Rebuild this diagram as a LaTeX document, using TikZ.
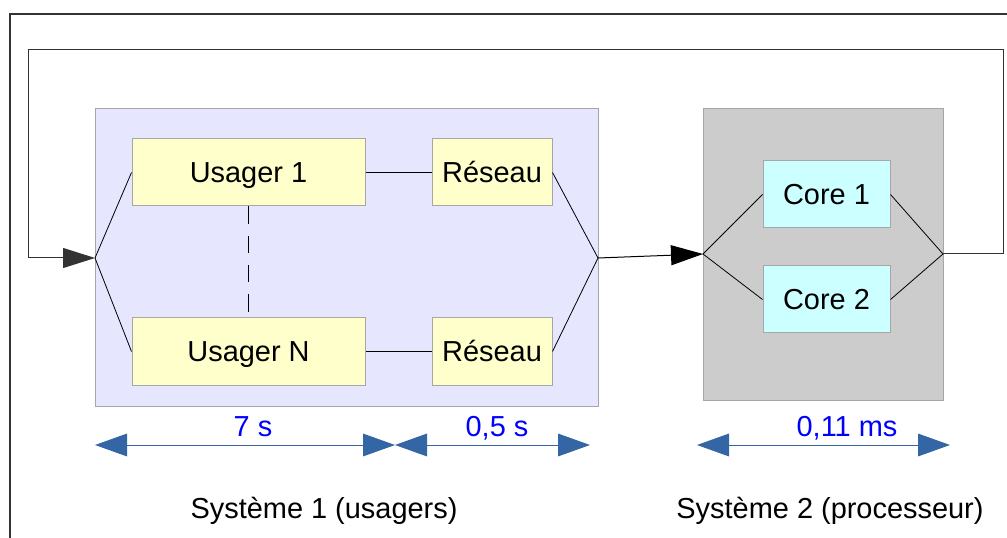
\documentclass[tikz,border=0pt]{standalone}
\usepackage{fontspec}
\setmainfont{Liberation Sans}
\usetikzlibrary{arrows.meta}
\definecolor{lavande}{HTML}{E6E6FF}
\definecolor{jaune}{HTML}{FFFFCC}
\definecolor{cyanpale}{HTML}{CCFFFF}
\definecolor{grisfond}{HTML}{CCCCCC}
\definecolor{bleucote}{HTML}{3465A4}
\begin{document}
\begin{tikzpicture}[x=0.75pt,y=-0.75pt,font=\fontsize{21.7}{26}\selectfont,
	every node/.style={text height=15.5pt,text depth=0pt},
	systeme/.style={draw=gray!70,line width=0.75pt,inner sep=0pt},
	bloc/.style={draw=gray!70,line width=0.75pt,inner sep=0pt,minimum height=50.25pt},
	lien/.style={line width=0.6pt},
	fleche/.style={line width=0.75pt,-{Triangle[length=24pt,width=15pt]}},
	cote/.style={draw=bleucote,line width=0.75pt,{Triangle[length=24pt,width=17pt]}-{Triangle[length=24pt,width=17pt]}},
	valeur/.style={text=blue}]
	\useasboundingbox (0,0) rectangle (1007,538);
	% cadre
	\draw[line width=0.9pt,draw=black!80] (1007,14) -- (10,14) -- (10,538);
	% systemes
	\node[systeme,fill=lavande,minimum width=377.25pt,minimum height=222.75pt] (sys1) at (346.5,257.5) {};
	\node[systeme,fill=grisfond,minimum width=180pt,minimum height=218.25pt] (sys2) at (823,254.5) {};
	% blocs
	\node[bloc,fill=jaune,minimum width=174.75pt] (usager1) at (248.5,172.5) {Usager 1};
	\node[bloc,fill=jaune,minimum width=174.75pt] (usagerN) at (248.5,351.5) {Usager N};
	\node[bloc,fill=jaune,minimum width=90pt] (reseau1) at (492,172.5) {Réseau};
	\node[bloc,fill=jaune,minimum width=90pt] (reseauN) at (492,351.5) {Réseau};
	\node[bloc,fill=cyanpale,minimum width=95.25pt] (core1) at (826.5,194.5) {Core 1};
	\node[bloc,fill=cyanpale,minimum width=95.25pt] (core2) at (826.5,299.5) {Core 2};
	% jonctions
	\coordinate (entree1) at (95,258);
	\coordinate (sortie1) at (598,258);
	\coordinate (entree2) at (703,254);
	\coordinate (sortie2) at (943,254);
	\coordinate (coinD) at (1003,50);
	\coordinate (coinG) at (28,50);
	\draw[lien] (usager1.west) -- (entree1) -- (usagerN.west);
	\draw[lien] (usager1) -- (reseau1);
	\draw[lien] (usagerN) -- (reseauN);
	\draw[lien,dash pattern=on 13pt off 9pt] (usager1.south) -- (usagerN.north);
	\draw[lien] (reseau1.east) -- (sortie1) -- (reseauN.east);
	\draw[lien] (core1.west) -- (entree2) -- (core2.west);
	\draw[lien] (core1.east) -- (sortie2) -- (core2.east);
	\draw[fleche] (sortie1) -- (entree2);
	\draw[fleche,draw=black!80] (sortie2) -| (coinD) -- (coinG) |- (entree1);
	% cotes
	\coordinate (c1) at (95,445);
	\coordinate (c2) at (395,445);
	\coordinate (c3) at (590,445);
	\coordinate (c4) at (697,445);
	\coordinate (c5) at (950,445);
	\draw[cote] (c1) -- (c2);
	\draw[cote] (c2) -- (c3);
	\draw[cote] (c4) -- (c5);
	\node[valeur] (t7) at (253,426) {7 s};
	\node[valeur] (t05) at (497,426) {0,5 s};
	\node[valeur] (t011) at (847,426) {0,11 ms};
	\node (nom1) at (324,508) {Système 1 (usagers)};
	\node (nom2) at (830,508) {Système 2 (processeur)};
\end{tikzpicture}
\end{document}
